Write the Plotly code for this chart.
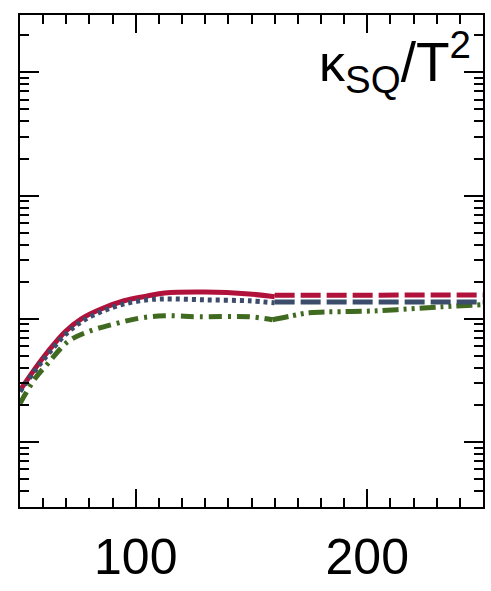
import plotly.graph_objects as go

# Red solid (T < 160) and dashed (T > 160)
red_T = [50, 56.5, 62, 69.5, 76.5, 85, 95, 105, 112.5, 130, 149, 160]
red_v = [0.0262, 0.0394, 0.054, 0.0785, 0.100, 0.120, 0.140, 0.153, 0.162, 0.165, 0.159, 0.151]
red_dash_T = [160, 200, 250]
red_dash_v = [0.155, 0.156, 0.156]

# Blue dotted (T < 160) and dashed (T > 160)
blue_T = [50, 56.5, 62, 69.5, 76.5, 85, 95, 105, 112.5, 130, 149, 160]
blue_v = [0.0257, 0.038, 0.0512, 0.0743, 0.0945, 0.114, 0.132, 0.1425, 0.145, 0.1425, 0.1398, 0.1346]
blue_dash_T = [160, 200, 250]
blue_dash_v = [0.137, 0.137, 0.137]

# Green dash-dot
green_T = [50, 56.5, 62, 70.7, 79.3, 91, 102.6, 112.5, 127.6, 149, 159]
green_v = [0.0205, 0.0327, 0.0433, 0.0652, 0.0785, 0.0911, 0.1019, 0.1058, 0.1038, 0.1038, 0.0981]
green2_T = [159, 167.7, 175, 204, 232, 250]
green2_v = [0.0981, 0.1058, 0.1118, 0.116, 0.125, 0.130]

x_ticks = [100, 200]
x_labels = ["100", "200"]

RED = "#B0123C"
BLUE = "#3B4D6B"
GREEN = "#3F6A1F"

fig = go.Figure()
fig.add_trace(go.Scatter(x=green_T, y=green_v, mode="lines", line=dict(color=GREEN, width=5, dash="13px,6px,3px,6px"), line_shape="spline"))
fig.add_trace(go.Scatter(x=green2_T, y=green2_v, mode="lines", line=dict(color=GREEN, width=5, dash="16px,5px,3px,5px,3px,5px"), line_shape="spline"))
fig.add_trace(go.Scatter(x=red_T, y=red_v, mode="lines", line=dict(color=RED, width=5), line_shape="spline"))
fig.add_trace(go.Scatter(x=red_dash_T, y=red_dash_v, mode="lines", line=dict(color=RED, width=5, dash="20px,6px")))
fig.add_trace(go.Scatter(x=blue_T, y=blue_v, mode="lines", line=dict(color=BLUE, width=5, dash="4px,4px"), line_shape="spline"))
fig.add_trace(go.Scatter(x=blue_dash_T, y=blue_dash_v, mode="lines", line=dict(color=BLUE, width=5, dash="20px,6px")))

fig.update_layout(
    width=491, height=591,
    margin=dict(l=20, r=6, t=15, b=82),
    paper_bgcolor="white", plot_bgcolor="white",
    showlegend=False,
    font=dict(family="Liberation Sans, Arial, sans-serif", color="black"),
)
fig.update_xaxes(
    range=[50, 250], showgrid=False, zeroline=False,
    showline=True, linecolor="black", linewidth=2, mirror="allticks",
    ticks="inside", ticklen=18, tickwidth=2, tickcolor="black",
    tickvals=x_ticks, ticktext=x_labels, tickfont=dict(size=50),
    ticklabelstandoff=5,
    minor=dict(ticks="inside", ticklen=9, tickwidth=2, tickcolor="black", tick0=0, dtick=10, showgrid=False),
)
fig.update_yaxes(
    type="log", range=[-2.528, 1.466], showgrid=False, zeroline=False,
    showline=True, linecolor="black", linewidth=2, mirror="allticks",
    ticks="inside", ticklen=19, tickwidth=2, tickcolor="black",
    dtick=1, showticklabels=False,
    minor=dict(ticks="inside", ticklen=9, tickwidth=2, tickcolor="black", showgrid=False),
)
fig.add_annotation(
    xref="paper", yref="paper", x=1, y=1, xanchor="right", yanchor="top",
    xshift=-10, yshift=-6, showarrow=False,
    text="<span style='font-size:52px'>κ</span><sub>SQ</sub>/T<sup>2</sup>",
    font=dict(size=55, color="black", family="Liberation Sans, Arial, sans-serif"),
)

fig.write_html("out.html")
